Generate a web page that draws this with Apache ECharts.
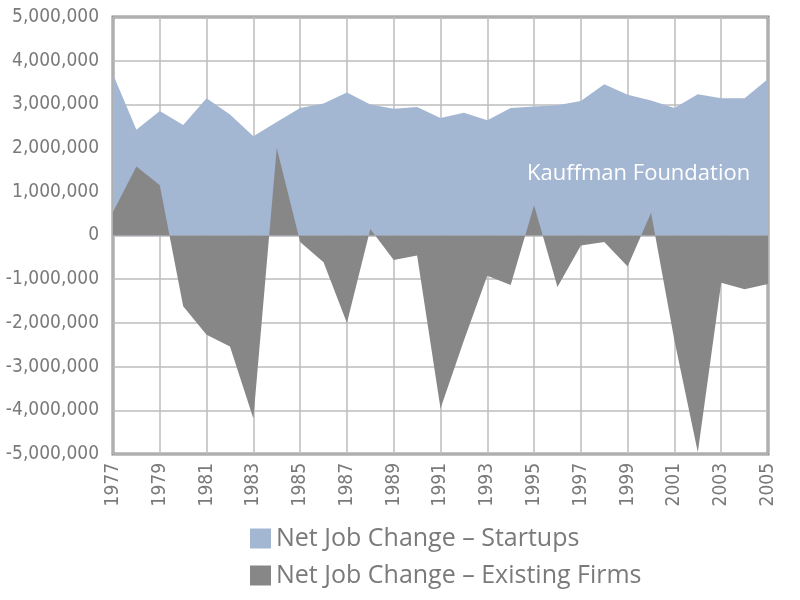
<!DOCTYPE html>
<html>
<head>
<meta charset="utf-8">
<script src="https://cdn.jsdelivr.net/npm/echarts@6/dist/echarts.min.js"></script>
<style>
html, body { margin: 0; padding: 0; background: #fff; }
#chart { width: 800px; height: 600px; }
</style>
</head>
<body>
<div id="chart"></div>
<script>
var years = ['1977', '1978', '1979', '1980', '1981', '1982', '1983', '1984', '1985', '1986',
    '1987', '1988', '1989', '1990', '1991', '1992', '1993', '1994', '1995', '1996',
    '1997', '1998', '1999', '2000', '2001', '2002', '2003', '2004', '2005'];
var startups = [3690000, 2420000, 2850000, 2530000, 3140000, 2770000, 2270000, 2600000, 2920000, 3020000,
    3270000, 3000000, 2900000, 2940000, 2690000, 2810000, 2640000, 2920000, 2950000, 2980000,
    3080000, 3460000, 3220000, 3090000, 2920000, 3230000, 3140000, 3140000, 3580000];
var existing = [540000, 1580000, 1150000, -1620000, -2270000, -2540000, -4190000, 2000000, -150000, -610000,
    -2000000, 150000, -560000, -460000, -3960000, -2400000, -920000, -1130000, 690000, -1180000,
    -230000, -150000, -710000, 520000, -2400000, -4960000, -1080000, -1230000, -1110000];
var seriesNames = ['Net Job Change – Startups', 'Net Job Change – Existing Firms'];

var txtColor = '#7a7a7a';
var axisFont = '"DejaVu Sans Condensed", "Liberation Sans", sans-serif';
var myChart = echarts.init(document.getElementById('chart'));

var options = {
    animation: false,
    backgroundColor: '#fff',
    grid: {
        left: 113, right: 32, top: 17, bottom: 146,
        show: true, borderColor: '#888', borderWidth: 3, backgroundColor: '#fff'
    },
    legend: {
        orient: 'vertical',
        left: 245, top: 521,
        icon: 'rect',
        itemWidth: 21, itemHeight: 20, itemGap: 12,
        textStyle: { fontFamily: 'Open Sans', fontSize: 25, lineHeight: 25, color: txtColor },
        data: seriesNames
    },
    xAxis: {
        type: 'category',
        boundaryGap: false,
        data: years,
        axisLine: { show: false },
        axisTick: { show: false },
        axisLabel: {
            interval: 1, rotate: 90, margin: 9,
            fontFamily: axisFont, fontSize: 19, color: txtColor
        },
        splitLine: { show: true, interval: 1, lineStyle: { color: '#bdbdbd', width: 1.5 } }
    },
    yAxis: {
        type: 'value',
        min: -5000000, max: 5000000, interval: 1000000,
        axisLine: { show: false },
        axisTick: { show: false },
        axisLabel: {
            margin: 14,
            fontFamily: axisFont, fontSize: 19, color: txtColor,
            formatter: function (v) { return v.toLocaleString('en-US'); }
        },
        splitLine: { show: true, lineStyle: { color: '#bdbdbd', width: 1.5 } }
    },
    series: [{
        name: seriesNames[0],
        type: 'line',
        data: startups,
        symbol: 'none',
        lineStyle: { width: 0 },
        itemStyle: { color: '#a3b6d2' },
        areaStyle: { color: '#a3b6d2', opacity: 1, origin: 0 }
    }, {
        name: seriesNames[1],
        type: 'line',
        data: existing,
        symbol: 'none',
        lineStyle: { width: 0 },
        itemStyle: { color: '#878787' },
        areaStyle: { color: '#878787', opacity: 1, origin: 0 }
    }],
    graphic: [{
        type: 'text',
        left: 527, top: 163,
        z: 100,
        style: { text: 'Kauffman Foundation', fill: '#fff', fontFamily: 'Open Sans', fontSize: 22 }
    }]
};

myChart.setOption(options);
</script>
</body>
</html>
